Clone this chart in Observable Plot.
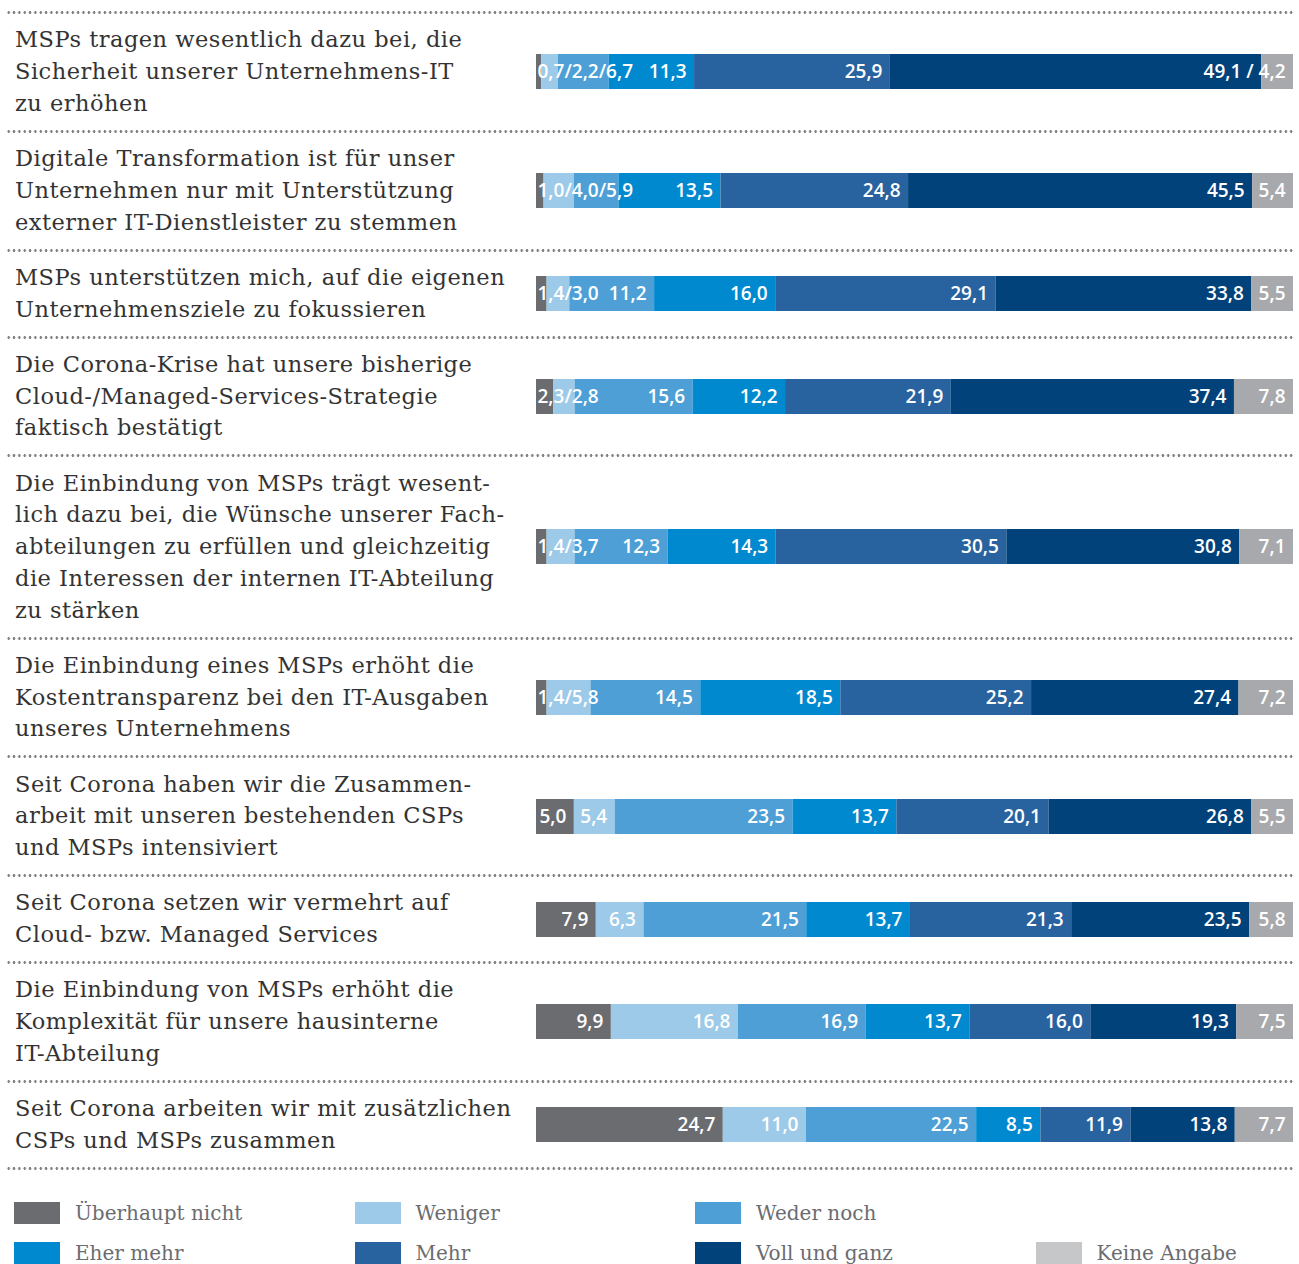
<!DOCTYPE html>
<html>
<head>
<meta charset="utf-8">
<script src="https://cdn.jsdelivr.net/npm/d3@7"></script>
<script src="https://cdn.jsdelivr.net/npm/@observablehq/plot@0.6"></script>
<style>
  body { margin: 0; background: #fff; font-family: "DejaVu Serif", serif; }
  #chart { width: 1299px; padding-top: 11px; }
  .sep { margin-left: 6px; width: 1288px; height: 3px;
         background-image: radial-gradient(circle at center, #808080 1.15px, transparent 1.5px);
         background-size: 5.35px 3px; background-repeat: repeat-x; }
  .row { display: flex; align-items: center; }
  .label { width: 521px; padding-left: 15px; white-space: pre; font-size: 22.5px;
           line-height: 31.75px; color: #333; letter-spacing: 0.5px; }
  .bar svg { display: block; }
  .legend { display: grid; grid-template-columns: repeat(4, 340.5px); row-gap: 18px;
            margin-left: 14px; margin-top: 32px; }
  .item { display: flex; align-items: center; height: 22px; }
  .sw { width: 46px; height: 22px; margin-right: 15px; flex: none; }
  .item span { font-size: 20px; color: #6b6c70; }
</style>
</head>
<body>
<div id="chart"></div>
<script>
const categories = ["Überhaupt nicht", "Weniger", "Weder noch", "Eher mehr", "Mehr", "Voll und ganz", "Keine Angabe"];
const barColors = ["#6b6c70", "#9ccae8", "#4d9fd6", "#0089cf", "#2863a0", "#02427a", "#a8a9ac"];
const legendColors = ["#6b6c70", "#9ccae8", "#4d9fd6", "#0089cf", "#2863a0", "#02427a", "#c6c7c9"];
const legendSlots = ["Überhaupt nicht", "Weniger", "Weder noch", null, "Eher mehr", "Mehr", "Voll und ganz", "Keine Angabe"];

const statements = [
  "MSPs tragen wesentlich dazu bei, die\nSicherheit unserer Unternehmens-IT\nzu erhöhen",
  "Digitale Transformation ist für unser\nUnternehmen nur mit Unterstützung\nexterner IT-Dienstleister zu stemmen",
  "MSPs unterstützen mich, auf die eigenen\nUnternehmensziele zu fokussieren",
  "Die Corona-Krise hat unsere bisherige\nCloud-/Managed-Services-Strategie\nfaktisch bestätigt",
  "Die Einbindung von MSPs trägt wesent-\nlich dazu bei, die Wünsche unserer Fach-\nabteilungen zu erfüllen und gleichzeitig\ndie Interessen der internen IT-Abteilung\nzu stärken",
  "Die Einbindung eines MSPs erhöht die\nKostentransparenz bei den IT-Ausgaben\nunseres Unternehmens",
  "Seit Corona haben wir die Zusammen-\narbeit mit unseren bestehenden CSPs\nund MSPs intensiviert",
  "Seit Corona setzen wir vermehrt auf\nCloud- bzw. Managed Services",
  "Die Einbindung von MSPs erhöht die\nKomplexität für unsere hausinterne\nIT-Abteilung",
  "Seit Corona arbeiten wir mit zusätzlichen\nCSPs und MSPs zusammen"
];

const ueberhauptNicht = [0.7, 1.0, 1.4, 2.3, 1.4, 1.4, 5.0, 7.9, 9.9, 24.7];
const weniger         = [2.2, 4.0, 3.0, 2.8, 3.7, 5.8, 5.4, 6.3, 16.8, 11.0];
const wederNoch       = [6.7, 5.9, 11.2, 15.6, 12.3, 14.5, 23.5, 21.5, 16.9, 22.5];
const eherMehr        = [11.3, 13.5, 16.0, 12.2, 14.3, 18.5, 13.7, 13.7, 13.7, 8.5];
const mehr            = [25.9, 24.8, 29.1, 21.9, 30.5, 25.2, 20.1, 21.3, 16.0, 11.9];
const vollUndGanz     = [49.1, 45.5, 33.8, 37.4, 30.8, 27.4, 26.8, 23.5, 19.3, 13.8];
const keineAngabe     = [4.2, 5.4, 5.5, 7.8, 7.1, 7.2, 5.5, 5.8, 7.5, 7.7];

// how many leading segments share one combined label, and whether the last two share one
const leadMerged = [3, 3, 2, 2, 2, 2, 0, 0, 0, 0];
const tailMerged = [true, false, false, false, false, false, false, false, false, false];

const series = [ueberhauptNicht, weniger, wederNoch, eherMehr, mehr, vollUndGanz, keineAngabe];
const fmt = v => v.toFixed(1).replace(".", ",");

const chart = document.getElementById("chart");
const addSep = () => { const s = document.createElement("div"); s.className = "sep"; chart.appendChild(s); };
addSep();

statements.forEach((stmt, i) => {
  const values = series.map(s => s[i]);
  const data = categories.map((c, k) => ({category: c, value: values[k]}));
  const total = d3.sum(values);
  const ends = d3.cumsum(values).map(v => v / total);

  const labels = [];
  const lead = leadMerged[i];
  if (lead > 0) labels.push({x: 0, text: values.slice(0, lead).map(fmt).join("/"), anchor: "start"});
  for (let k = lead; k < values.length; k++) {
    if (tailMerged[i] && k === values.length - 2) continue;
    let text = fmt(values[k]);
    if (tailMerged[i] && k === values.length - 1) text = fmt(values[k - 1]) + " / " + fmt(values[k]);
    labels.push({x: ends[k], text, anchor: "end"});
  }

  const lines = stmt.split("\n").length;
  const row = document.createElement("div");
  row.className = "row";
  row.style.height = (31.75 * lines + 23.5 - 3) + "px";
  const lab = document.createElement("div");
  lab.className = "label";
  lab.textContent = stmt;
  const bar = document.createElement("div");
  bar.className = "bar";

  const plot = Plot.plot({
    width: 757, height: 35, margin: 0,
    x: {domain: [0, 1], axis: null},
    color: {domain: categories, range: barColors},
    style: {fontFamily: "Open Sans, sans-serif", background: "transparent"},
    marks: [
      Plot.barX(data, Plot.stackX({x: "value", fill: "category", offset: "normalize", inset: 0})),
      Plot.text(labels.filter(d => d.anchor === "start"), {x: "x", text: "text", textAnchor: "start", dx: 1,
        fill: "white", fontSize: 19, fontWeight: 600}),
      Plot.text(labels.filter(d => d.anchor === "end"), {x: "x", text: "text", textAnchor: "end", dx: -8,
        fill: "white", fontSize: 19, fontWeight: 600})
    ]
  });
  bar.appendChild(plot);
  row.appendChild(lab);
  row.appendChild(bar);
  chart.appendChild(row);
  addSep();
});

const legend = document.createElement("div");
legend.className = "legend";
legendSlots.forEach(name => {
  const item = document.createElement("div");
  item.className = "item";
  if (name) {
    const sw = document.createElement("div");
    sw.className = "sw";
    sw.style.background = legendColors[categories.indexOf(name)];
    const t = document.createElement("span");
    t.textContent = name;
    item.appendChild(sw);
    item.appendChild(t);
  }
  legend.appendChild(item);
});
chart.appendChild(legend);
</script>
</body>
</html>
